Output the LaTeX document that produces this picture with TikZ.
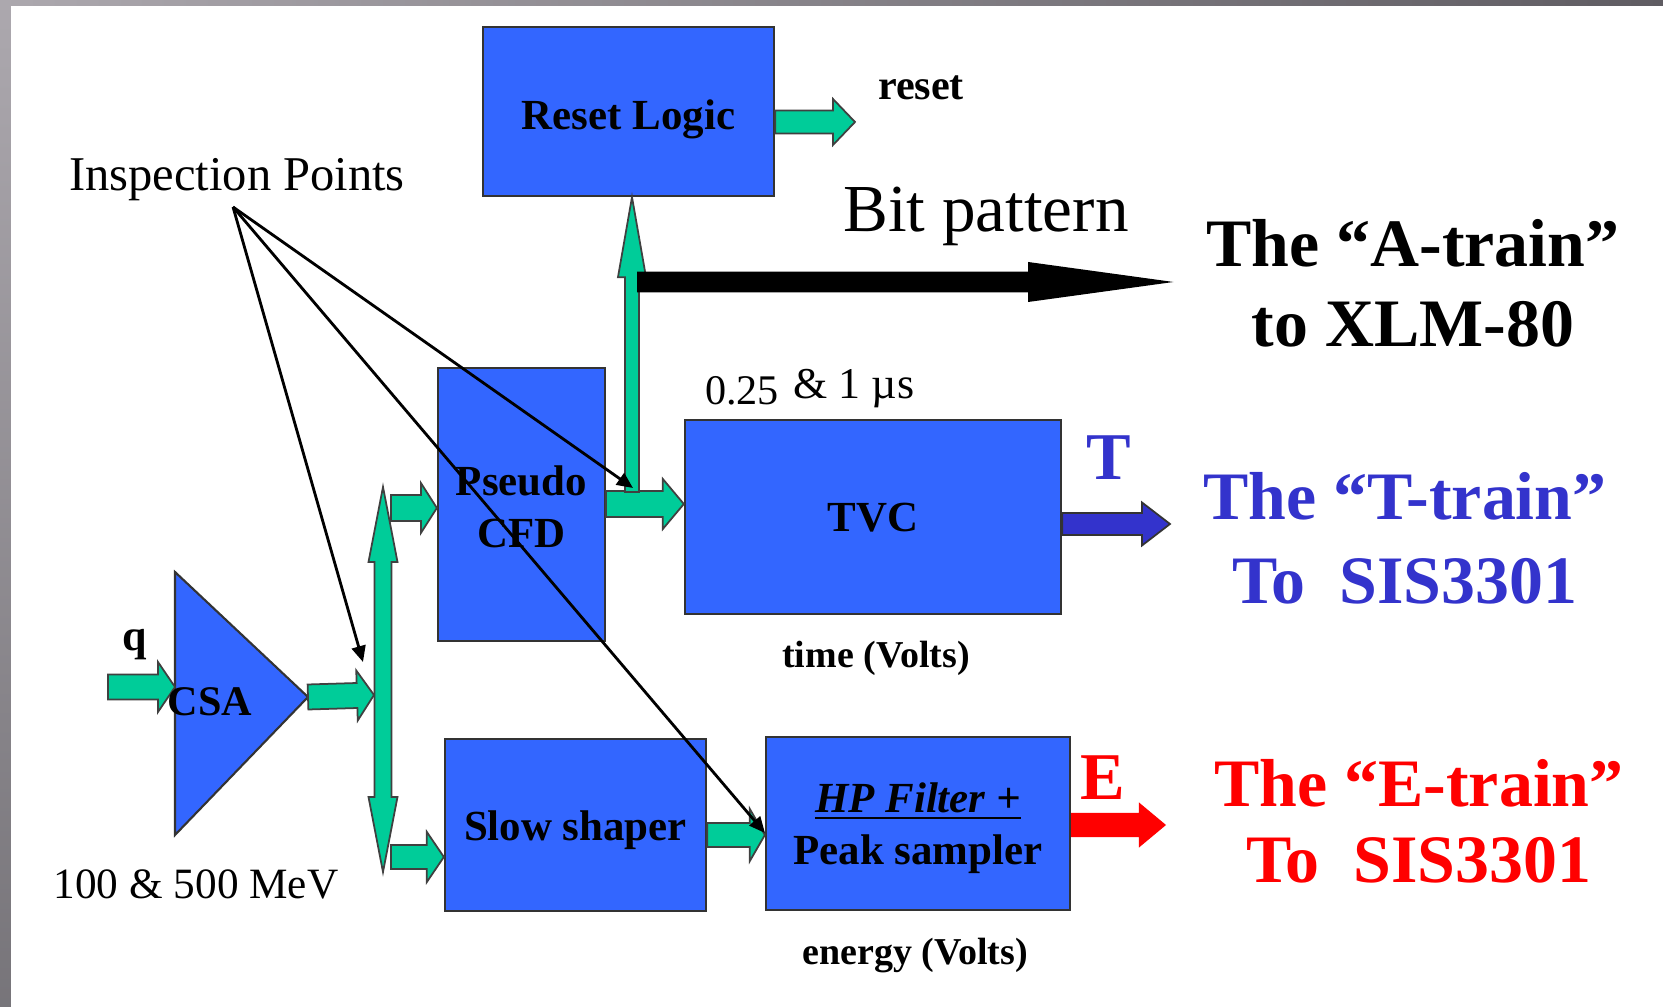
\documentclass[tikz,border=0pt]{standalone}
\usepackage{fontspec}
\setmainfont{Liberation Serif}
\usetikzlibrary{calc,arrows.meta}
\definecolor{boxblue}{RGB}{51,102,255}
\definecolor{arrgreen}{RGB}{0,204,153}
\definecolor{tblue}{RGB}{51,51,204}
\definecolor{ered}{RGB}{255,0,0}
\definecolor{grayL}{RGB}{172,168,174}
\definecolor{grayD}{RGB}{95,92,98}
\newcommand\myfs[2]{\fontsize{#1}{#2}\selectfont}
% block arrow: [style] from, to, half shaft, half head, head length
\newcommand\blockarrow[6][]{%
  \coordinate (ba) at (#2);
  \coordinate (bb) at (#3);
  \coordinate (bh) at ($(bb)!#6!(ba)$);
  \path[barrow,#1] ($(ba)!#4!90:(bb)$) -- ($(bh)!#4!90:(bb)$) -- ($(bh)!#5!90:(bb)$) -- (bb)
     -- ($(bh)!#5!-90:(bb)$) -- ($(bh)!#4!-90:(bb)$) -- ($(ba)!#4!-90:(bb)$) -- cycle;
}
\newcommand\dblockarrow[6][]{%
  \coordinate (ba) at (#2);
  \coordinate (bb) at (#3);
  \coordinate (bh) at ($(bb)!#6!(ba)$);
  \coordinate (bg) at ($(ba)!#6!(bb)$);
  \path[barrow,#1] (ba) -- ($(bg)!#5!90:(bb)$) -- ($(bg)!#4!90:(bb)$) -- ($(bh)!#4!90:(bb)$)
     -- ($(bh)!#5!90:(bb)$) -- (bb) -- ($(bh)!#5!-90:(bb)$) -- ($(bh)!#4!-90:(bb)$)
     -- ($(bg)!#4!-90:(bb)$) -- ($(bg)!#5!-90:(bb)$) -- cycle;
}
\begin{document}
\begin{tikzpicture}[x=0.01cm,y=-0.01cm,
  box/.style={draw=black!80, fill=boxblue, line width=0.6pt, inner sep=0pt},
  boxtext/.style={inner sep=0pt, align=center, font=\bfseries\myfs{12.2pt}{14.8pt}},
  barrow/.style={fill=arrgreen, draw=black!75, line width=0.5pt, line join=miter},
  lbl/.style={inner sep=0pt, align=center},
  insparrow/.style={draw=black, line width=0.8pt, -{Triangle[length=1.6mm,width=1.4mm]}}]
\useasboundingbox (0,0) rectangle (1663,1007);
\shade[left color=grayL, right color=grayD] (0,0) rectangle (1663,1007);
\shade[top color=grayL, bottom color=grayD!85!white] (0,0) rectangle (11,1007);
\fill[white] (11,6) rectangle (1663,1007);

% boxes
\node[box, minimum width=2.91cm, minimum height=1.69cm] (reset) at (628.5,111.5) {};
\node[box, minimum width=1.67cm, minimum height=2.73cm] (cfd) at (521.5,504.5) {};
\node[box, minimum width=3.76cm, minimum height=1.94cm] (tvc) at (873,517) {};
\node[box, minimum width=2.61cm, minimum height=1.72cm] (slow) at (575.5,825) {};
\node[box, minimum width=3.04cm, minimum height=1.73cm] (hp) at (918,823.5) {};
\node[boxtext] (resetT) at ($(reset.center)+(0,7.5)$) {Reset Logic};
\node[boxtext] (cfdT) at ($(cfd.center)+(0,2)$) {Pseudo\\CFD};
\node[boxtext] (tvcT) at ($(tvc.center)+(0,1)$) {TVC};
\node[boxtext] (slowT) at ($(slow.center)+(0,5)$) {Slow shaper};
\node[boxtext] (hpT) at ($(hp.center)+(0,5)$) {\underline{\textit{HP Filter +}}\\Peak sampler};

% CSA triangle
\coordinate (csaT) at (175,572);
\coordinate (csaA) at (308,697);
\coordinate (csaB) at (175,835);
\path[draw=black!80, fill=boxblue, line width=0.6pt] (csaT) -- (csaA) -- (csaB) -- cycle;

% helper coordinates
\coordinate (qin) at (108,687);
\coordinate (busTop) at (383,487);
\coordinate (busBot) at (383,872);
\coordinate (busIn) at (374,695);
\coordinate (brTop) at (391,508);
\coordinate (brBot) at (391,857);
\coordinate (jn) at (632,492);
\coordinate (bitStart) at (638,282);
\coordinate (bitEnd) at (1167,282);
\coordinate (resetEnd) at (855,122);
\coordinate (tEnd) at (1170,524);
\coordinate (eEnd) at (1166,825);

% green arrows
\blockarrow{qin}{csaT |- qin}{1.25mm}{2.5mm}{1.7mm}
\blockarrow{csaA}{busIn}{1.25mm}{2.5mm}{1.7mm}
\blockarrow{brTop}{cfd.west |- brTop}{1.3mm}{2.5mm}{1.6mm}
\blockarrow{brBot}{slow.west |- brBot}{1.2mm}{2.5mm}{1.7mm}
\dblockarrow{busTop}{busBot}{0.85mm}{1.45mm}{7.5mm}
\blockarrow{cfd.east |- 0,504}{tvc.west |- 0,504}{1.3mm}{2.5mm}{2.1mm}
\blockarrow{jn}{reset.south -| jn}{0.7mm}{1.4mm}{8mm}
\blockarrow{reset.east |- resetEnd}{resetEnd}{1.15mm}{2.3mm}{2.2mm}
\blockarrow{slow.east |- 0,835}{hp.west |- 0,835}{1.2mm}{2.6mm}{1.5mm}
\blockarrow[fill=black, draw=black]{bitStart}{bitEnd}{0.95mm}{1.9mm}{13.8mm}
\blockarrow[fill=tblue, draw=black!80]{tvc.east |- tEnd}{tEnd}{1.1mm}{2.15mm}{2.8mm}
\blockarrow[fill=ered, draw=none]{hp.east |- eEnd}{eEnd}{1.2mm}{2.25mm}{2.7mm}

% labels
\node[lbl, font=\bfseries\myfs{12pt}{14pt}] (csalbl) at (210,702) {CSA};
\node[lbl, font=\bfseries\myfs{12.5pt}{14pt}] (qlbl) at (135,645) {q};
\node[lbl, font=\myfs{12.3pt}{14pt}] (mev) at (196,884) {100 \& 500 MeV};
\node[lbl, font=\myfs{13.8pt}{16pt}] (insp) at (237,180) {Inspection Points};
\node[lbl, font=\bfseries\myfs{12pt}{14pt}] (resetlbl) at (921,88) {reset};
\node[lbl, font=\myfs{19.1pt}{22pt}, anchor=base] (bitlbl) at (986,232) {Bit pattern};
\node[lbl, font=\bfseries\myfs{19.3pt}{22.8pt}] (atrain) at (1413,283) {The “A-train”\\to XLM-80};
\node[lbl, font=\myfs{12pt}{14pt}, anchor=base] (t025) at (742,405) {0.25};
\node[lbl, font=\myfs{12.5pt}{14pt}, anchor=base] (tus) at (854,399) {\& 1 µs};
\node[lbl, font=\bfseries\myfs{19pt}{22pt}, text=tblue] (Tlbl) at (1109,458) {T};
\node[lbl, font=\bfseries\myfs{19.3pt}{24pt}, text=tblue] (ttrain) at (1405,538) {The “T-train”\\To\ \ SIS3301};
\node[lbl, font=\bfseries\myfs{10.8pt}{13pt}] (timev) at (876,658) {time (Volts)};
\node[lbl, font=\bfseries\myfs{19pt}{22pt}, text=ered] (Elbl) at (1103,778) {E};
\node[lbl, font=\bfseries\myfs{19.3pt}{21.6pt}, text=ered] (etrain) at (1419,821) {The “E-train”\\To\ \ SIS3301};
\node[lbl, font=\bfseries\myfs{10.8pt}{13pt}] (energyv) at (915,956) {energy (Volts)};

% inspection arrows
\coordinate (ip) at (233,207);
\coordinate (ipA) at (363,662);
\coordinate (ipB) at (633,488);
\coordinate (ipC) at (765,833);
\draw[insparrow] (ip) -- (ipA);
\draw[insparrow] (ip) -- (ipB);
\draw[insparrow] (ip) -- (ipC);
\end{tikzpicture}
\end{document}
